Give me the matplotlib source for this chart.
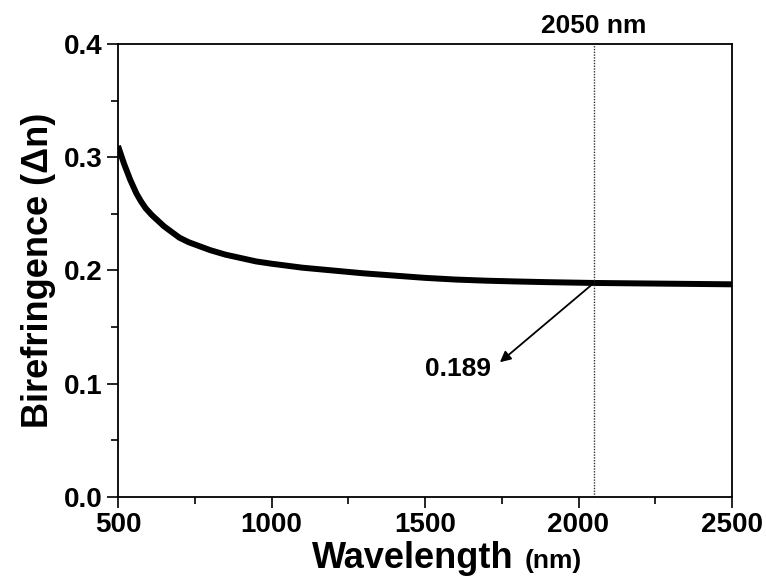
import matplotlib
matplotlib.use("Agg")
import matplotlib.pyplot as plt
from matplotlib.ticker import MultipleLocator

# values
wavelength = [500, 510, 520, 530, 540, 550, 560, 575, 590, 610, 630, 650,
              675, 700, 730, 760, 800, 850, 900, 950, 1000, 1100, 1200, 1300,
              1400, 1500, 1600, 1700, 1800, 1900, 2050, 2200, 2350, 2500]
biref = [0.310, 0.302, 0.294, 0.287, 0.280, 0.274, 0.268, 0.261, 0.255,
         0.249, 0.244, 0.239, 0.234, 0.229, 0.225, 0.222, 0.218, 0.214,
         0.211, 0.208, 0.206, 0.2025, 0.200, 0.1975, 0.1955, 0.1935, 0.192,
         0.191, 0.1903, 0.1897, 0.189, 0.1886, 0.1882, 0.1878]

mark_x = 2050
mark_y = 0.189
label_xy = (1744, 0.119)

plt.rcParams['font.family'] = ['Liberation Sans', 'DejaVu Sans']
plt.rcParams['font.weight'] = 'bold'

fig = plt.figure(figsize=(7.66, 5.8), dpi=100)
ax = fig.add_axes([118/766, 1-497/580, (732-118)/766, (497-44)/580])

ax.plot(wavelength, biref, color='black', lw=4.3, solid_capstyle='butt',
        solid_joinstyle='round')
ax.axvline(mark_x, color='#333333', lw=1.0, ls=(0, (1, 1)))

ax.annotate('', xy=label_xy, xytext=(mark_x, mark_y),
            arrowprops=dict(arrowstyle='-|>', color='black', lw=1.3,
                            mutation_scale=16, shrinkA=0, shrinkB=0))
ax.text(1607, 0.113, '0.189', fontsize=19, fontweight='bold',
        ha='center', va='center')
ax.text(mark_x, 0.405, '2050 nm', fontsize=19, fontweight='bold',
        ha='center', va='bottom')

ax.set_xlim(500, 2500)
ax.set_ylim(0, 0.4)
ax.xaxis.set_major_locator(MultipleLocator(500))
ax.xaxis.set_minor_locator(MultipleLocator(250))
ax.yaxis.set_major_locator(MultipleLocator(0.1))
ax.yaxis.set_minor_locator(MultipleLocator(0.05))
ax.yaxis.set_major_formatter(plt.FuncFormatter(lambda v, p: f'{v:.1f}'))

ax.tick_params(which='major', direction='out', length=8, width=1.2,
               labelsize=20, pad=3)
ax.tick_params(which='minor', direction='out', length=5, width=1.2)
for lab in ax.get_xticklabels() + ax.get_yticklabels():
    lab.set_fontweight('bold')
for s in ax.spines.values():
    s.set_linewidth(1.3)

ax.set_ylabel('Birefringence (\u0394n)', fontsize=26, fontweight='bold',
              labelpad=6)
fig.text(312/766, 1-568/580, 'Wavelength', fontsize=26, fontweight='bold',
         ha='left', va='baseline')
fig.text(525/766, 1-568/580, '(nm)', fontsize=19, fontweight='bold',
         ha='left', va='baseline')

fig.savefig('out.png', dpi=100)
